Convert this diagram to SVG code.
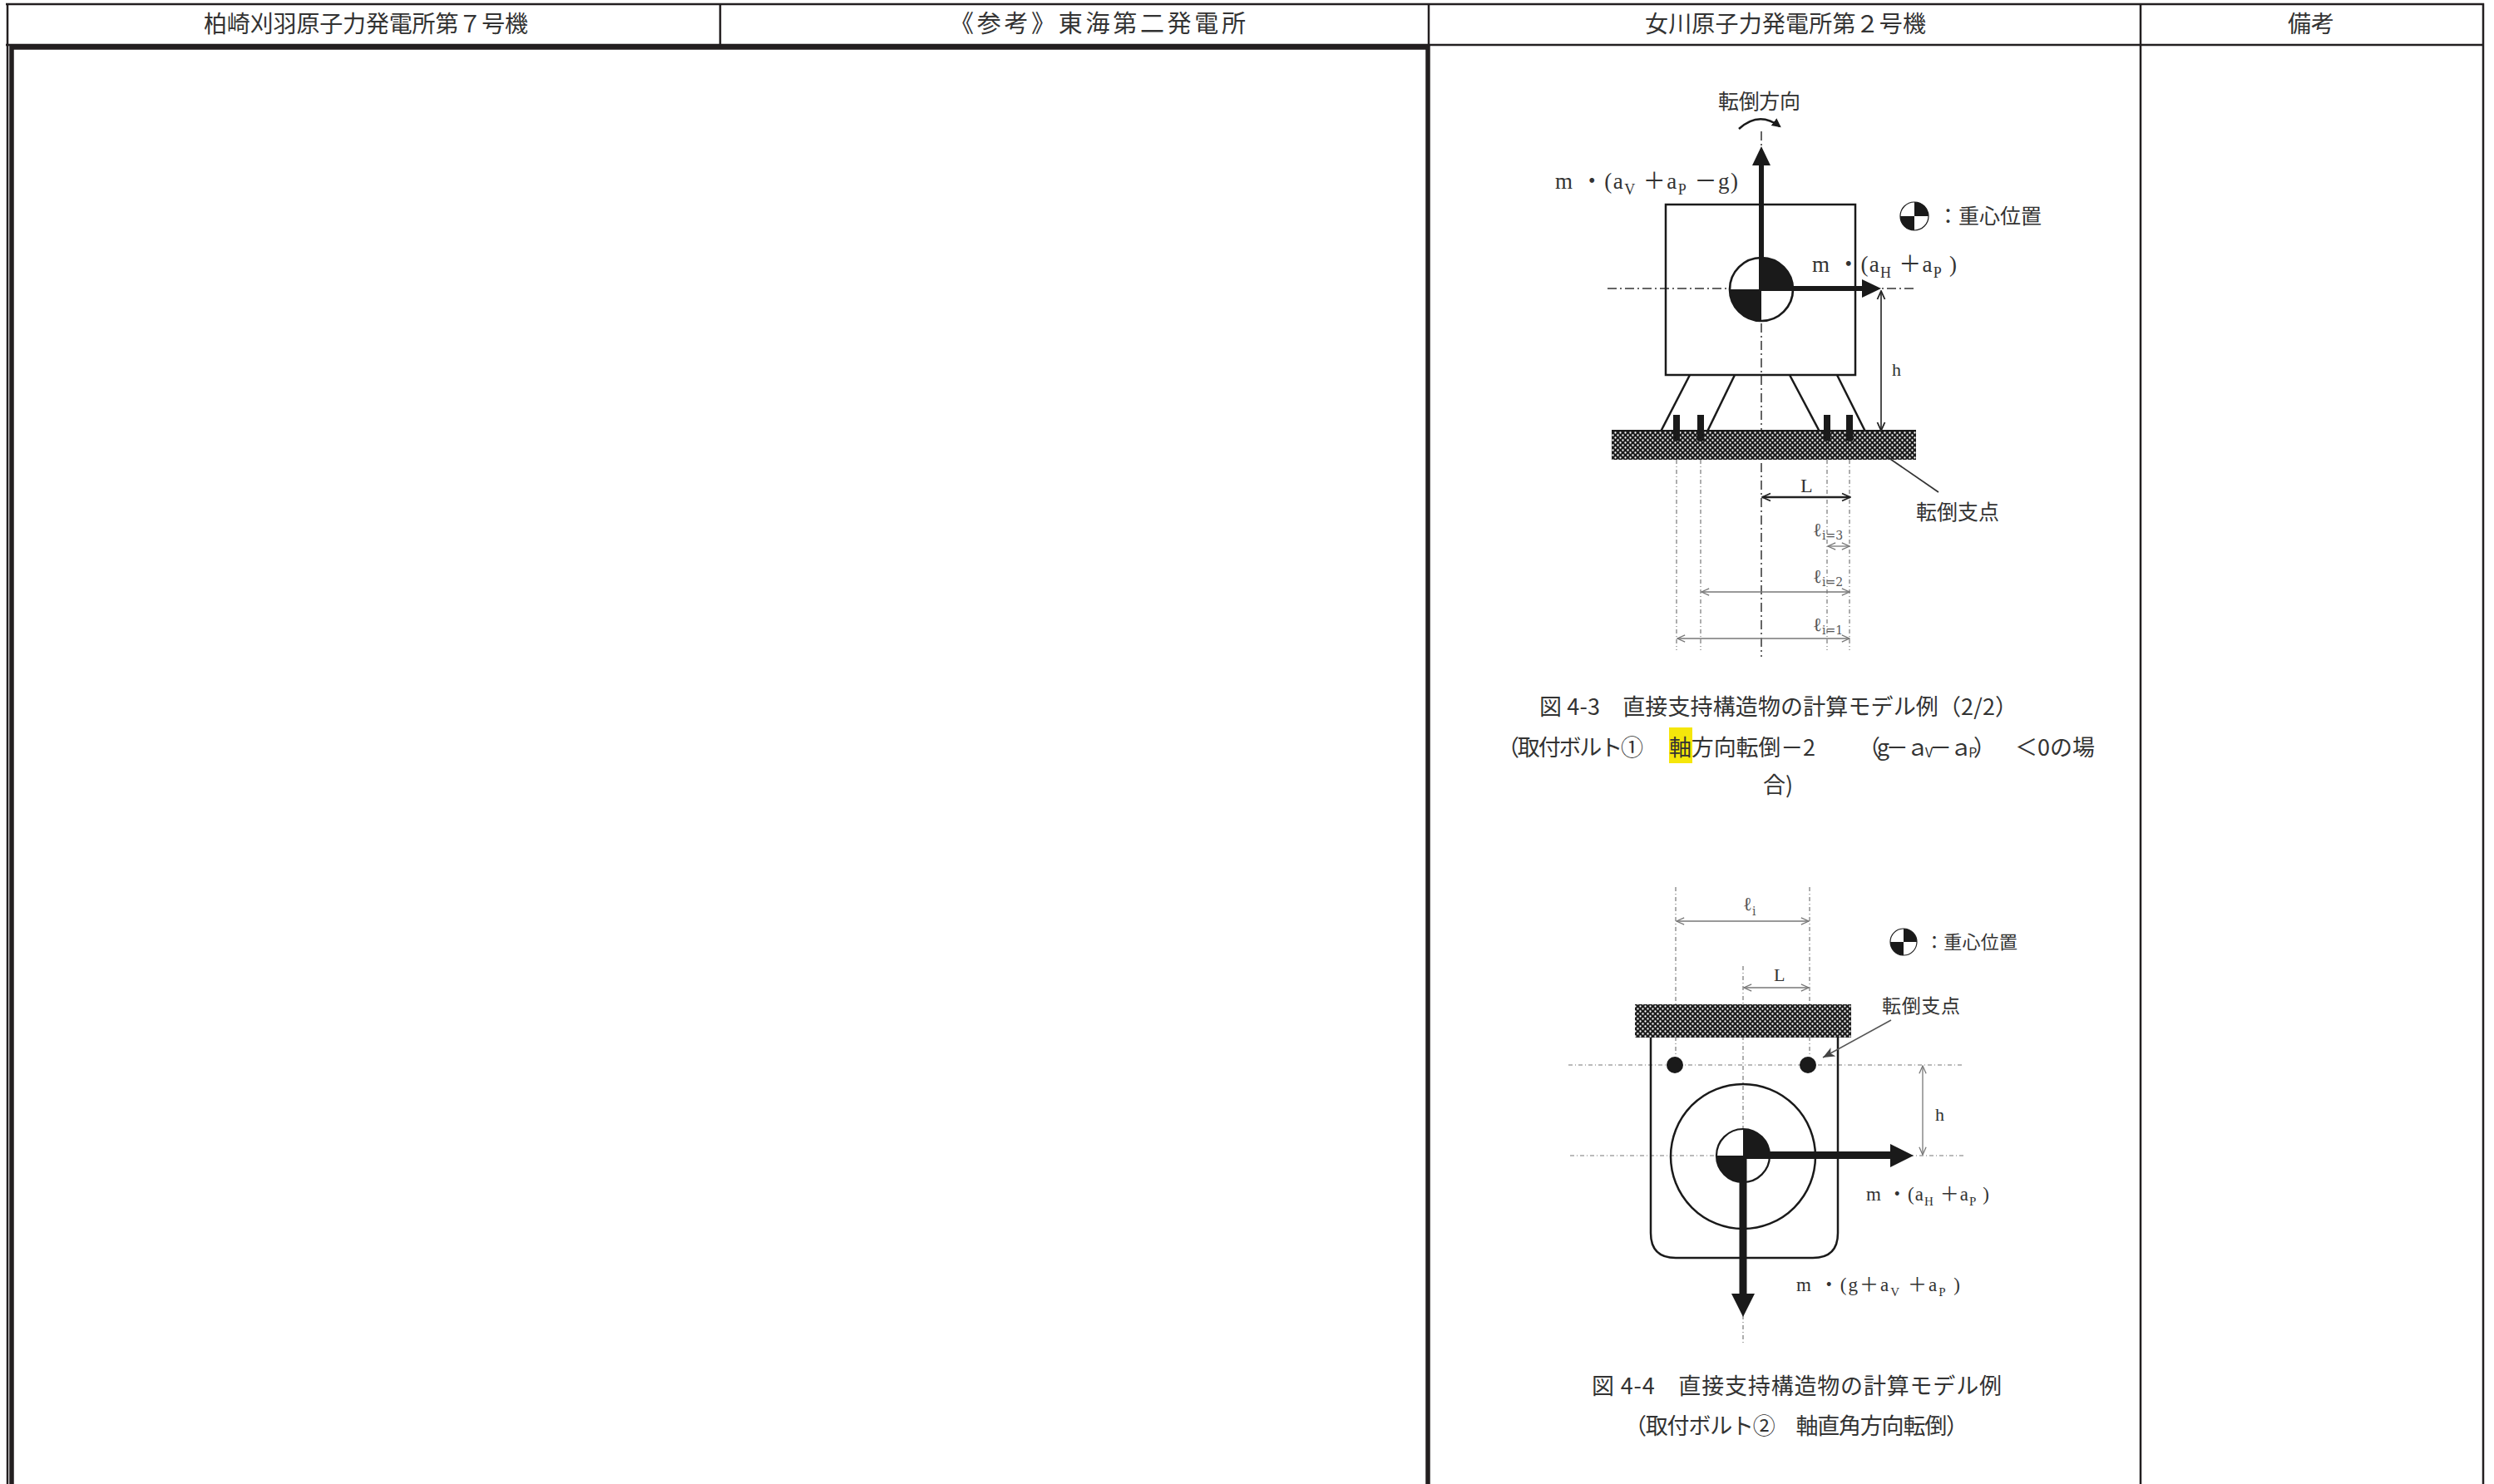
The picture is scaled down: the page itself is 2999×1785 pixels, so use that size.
<svg xmlns="http://www.w3.org/2000/svg" width="2999" height="1785" viewBox="0 0 2999 1785">
<style>
.bg{fill:#fff}
.tl{stroke:#231f20;stroke-width:2.5;fill:none}
.tk{stroke:#231f20;stroke-width:5.5;fill:none}
.jp{font-family:"Noto Sans CJK JP",sans-serif;fill:#333}
.fm{font-family:"Liberation Serif","Noto Sans CJK JP",serif;fill:#333}
.ln{stroke:#1a1a1a;stroke-width:2.5;fill:none}
.cl{stroke:#333;stroke-width:1.5;fill:none;stroke-dasharray:11 4 2 4}
.dl{stroke:#777;stroke-width:1.2;fill:none;stroke-dasharray:5 3 1 3}
.dim{stroke:#777;stroke-width:1.3;fill:none}
.dimd{stroke:#222;stroke-width:1.6;fill:none}
.blk{fill:#1a1a1a}
.ell{font-family:"DejaVu Serif",serif;fill:#555}
</style>
<defs>
<pattern id="hatch" width="6" height="6" patternUnits="userSpaceOnUse">
<rect width="6" height="6" fill="#1c1c1c"/>
<circle cx="1.5" cy="1.5" r="1.15" fill="#fff"/>
<circle cx="4.5" cy="4.5" r="1.15" fill="#fff"/>
</pattern>
<marker id="ad" viewBox="0 0 12 12" refX="11" refY="6" markerWidth="12" markerHeight="12" markerUnits="userSpaceOnUse" orient="auto-start-reverse"><path d="M1,1.5 L11,6 L1,10.5" fill="none" stroke="#222" stroke-width="1.8"/></marker>
<marker id="ag" viewBox="0 0 12 12" refX="11" refY="6" markerWidth="11" markerHeight="11" markerUnits="userSpaceOnUse" orient="auto-start-reverse"><path d="M1,1.5 L11,6 L1,10.5" fill="none" stroke="#777" stroke-width="1.4"/></marker>
<marker id="af" viewBox="0 0 12 10" refX="12" refY="5" markerWidth="14" markerHeight="12" markerUnits="userSpaceOnUse" orient="auto"><path d="M0,0 L12,5 L0,10 L3,5 z" fill="#444"/></marker>
<marker id="arc" viewBox="0 0 10 10" refX="8" refY="5" markerWidth="11" markerHeight="11" markerUnits="userSpaceOnUse" orient="auto"><path d="M0,0 L10,5 L0,10 z" fill="#1a1a1a"/></marker>
<g id="cg"><circle r="1" fill="#fff" stroke="#1a1a1a" stroke-width="0.07"/><path d="M0,0 L0,-1 A1,1 0 0 1 1,0 Z M0,0 L0,1 A1,1 0 0 1 -1,0 Z" fill="#1a1a1a"/></g>
</defs>
<rect class="bg" width="2999" height="1785"/>

<g id="table">
<line class="tl" x1="7" y1="5" x2="2987" y2="5"/>
<line class="tl" x1="9" y1="4" x2="9" y2="1785"/>
<line class="tl" x1="2986" y1="4" x2="2986" y2="1785"/>
<line class="tl" x1="7" y1="54" x2="2987" y2="54"/>
<line class="tl" x1="866" y1="5" x2="866" y2="54"/>
<line class="tl" x1="1718" y1="5" x2="1718" y2="54"/>
<line class="tl" x1="2574" y1="5" x2="2574" y2="1785"/>
<path class="tk" d="M14,1786 L14,57 L1717,57 L1717,1786"/>
<text class="jp" x="440" y="39" font-size="28" text-anchor="middle" textLength="390">柏崎刈羽原子力発電所第７号機</text>
<text class="jp" x="1320" y="39" font-size="29" text-anchor="middle" textLength="356">《参考》東海第二発電所</text>
<text class="jp" x="2147" y="39" font-size="28" text-anchor="middle" textLength="338">女川原子力発電所第２号機</text>
<text class="jp" x="2779" y="39" font-size="28" text-anchor="middle">備考</text>
</g>

<g id="fig43">
<g id="fig43-centerlines">
<line class="cl" x1="2118" y1="158" x2="2118" y2="790"/>
<line class="cl" x1="1933" y1="347" x2="2304" y2="347"/>
<line class="dl" x1="2016" y1="553" x2="2016" y2="782"/>
<line class="dl" x1="2045" y1="553" x2="2045" y2="782"/>
<line class="dl" x1="2197" y1="553" x2="2197" y2="782"/>
<line class="dl" x1="2224" y1="553" x2="2224" y2="782"/>
</g>
<g id="fig43-body">
<rect class="ln" x="2003" y="246" width="228" height="205"/>
<line class="ln" x1="2032" y1="451" x2="1997" y2="519"/>
<line class="ln" x1="2086" y1="451" x2="2053" y2="519"/>
<line class="ln" x1="2152" y1="451" x2="2188" y2="519"/>
<line class="ln" x1="2209" y1="451" x2="2243" y2="519"/>
<rect x="1938" y="518" width="366" height="35" fill="url(#hatch)"/>
<line x1="1938" y1="518" x2="2304" y2="518" stroke="#1a1a1a" stroke-width="2"/>
<rect class="blk" x="2012" y="499" width="8" height="31"/>
<rect class="blk" x="2041" y="499" width="8" height="31"/>
<rect class="blk" x="2193" y="499" width="8" height="31"/>
<rect class="blk" x="2220" y="499" width="8" height="31"/>
<use href="#cg" transform="translate(2118,348) scale(38)"/>
</g>
<g id="fig43-forces">
<rect class="blk" x="2115" y="194" width="6" height="154"/>
<path class="blk" d="M2107,199 L2129,199 L2118,176 Z"/>
<rect class="blk" x="2118" y="344" width="124" height="6"/>
<path class="blk" d="M2239,336 L2239,358 L2262,347 Z"/>
<path d="M2091,155 Q2115,133 2140,152" fill="none" stroke="#1a1a1a" stroke-width="2.5" marker-end="url(#arc)"/>
</g>
<g id="fig43-dims">
<line class="dimd" x1="2262" y1="350" x2="2262" y2="518" marker-start="url(#ad)" marker-end="url(#ad)"/>
<line x1="2119" y1="598" x2="2225" y2="598" stroke="#222" stroke-width="2.4" marker-start="url(#ad)" marker-end="url(#ad)"/>
<line class="dim" x1="2198" y1="657" x2="2224" y2="657" marker-start="url(#ag)" marker-end="url(#ag)"/>
<line class="dim" x1="2046" y1="712" x2="2224" y2="712" marker-start="url(#ag)" marker-end="url(#ag)"/>
<line class="dim" x1="2017" y1="768" x2="2224" y2="768" marker-start="url(#ag)" marker-end="url(#ag)"/>
<line x1="2270" y1="550" x2="2331" y2="592" stroke="#333" stroke-width="1.8"/>
</g>
<g id="fig43-labels">
<text class="jp" x="2066" y="131" font-size="25" textLength="99">転倒方向</text>
<text class="fm" x="1870" y="227" font-size="27" textLength="220">m ・(a<tspan font-size="18" dy="7">V</tspan><tspan dy="-7"> ＋a</tspan><tspan font-size="18" dy="7">P</tspan><tspan dy="-7"> －g)</tspan></text>
<text class="fm" x="2179" y="327" font-size="27" textLength="174">m ・(a<tspan font-size="18" dy="7">H</tspan><tspan dy="-7"> ＋a</tspan><tspan font-size="18" dy="7">P</tspan><tspan dy="-7"> )</tspan></text>
<use href="#cg" transform="translate(2302,260) scale(17)"/>
<text class="jp" x="2330" y="269" font-size="25" textLength="125">：重心位置</text>
<text class="fm" x="2275" y="452" font-size="22">h</text>
<text class="fm" x="2165" y="592" font-size="24">L</text>
<text class="jp" x="2304" y="625" font-size="25" textLength="100">転倒支点</text>
<text class="ell" x="2180" y="645" font-size="23">ℓ<tspan font-size="14" dy="4">i=3</tspan></text>
<text class="ell" x="2180" y="701" font-size="23">ℓ<tspan font-size="14" dy="4">i=2</tspan></text>
<text class="ell" x="2180" y="759" font-size="23">ℓ<tspan font-size="14" dy="4">i=1</tspan></text>
</g>
<g id="fig43-caption">
<text class="jp" x="1851" y="860" font-size="27" textLength="575">図 4-3　直接支持構造物の計算モデル例（2/2）</text>
<rect x="2007" y="875" width="28" height="43" fill="#f5e60a"/>
<text class="jp" x="1800" y="909" font-size="27" textLength="176">（取付ボルト①</text>
<text class="jp" x="2007" y="909" font-size="27" textLength="176">軸方向転倒－2</text>
<text class="jp" x="2234" y="909" font-size="27" textLength="166">（g－ ａ<tspan font-size="16" dy="2">V</tspan><tspan dy="-2">－ ａ</tspan><tspan font-size="16" dy="2">P</tspan><tspan dy="-2">）</tspan></text>
<text class="jp" x="2423" y="909" font-size="27">＜0の場</text>
<text class="jp" x="2120" y="954" font-size="27">合)</text>
</g>
</g>

<g id="fig44">
<g id="fig44-centerlines">
<line class="dl" x1="2015" y1="1067" x2="2015" y2="1281"/>
<line class="dl" x1="2176" y1="1067" x2="2176" y2="1281"/>
<line class="dl" x1="2096" y1="1162" x2="2096" y2="1616"/>
<line class="dl" x1="1886" y1="1281" x2="2359" y2="1281"/>
<line class="dl" x1="1888" y1="1390" x2="2361" y2="1390"/>
</g>
<g id="fig44-body">
<rect x="1966" y="1208" width="260" height="40" fill="url(#hatch)"/>
<path class="ln" d="M1985,1248 L1985,1483 Q1985,1513 2015,1513 L2180,1513 Q2210,1513 2210,1483 L2210,1248"/>
<circle class="blk" cx="2014" cy="1281" r="10"/>
<circle class="blk" cx="2174" cy="1281" r="10"/>
<circle class="ln" cx="2096" cy="1391" r="87"/>
<use href="#cg" transform="translate(2096,1390) scale(32)"/>
</g>
<g id="fig44-forces">
<rect class="blk" x="2096" y="1385" width="180" height="9"/>
<path class="blk" d="M2273,1376 L2273,1404 L2301,1390 Z"/>
<rect class="blk" x="2091.5" y="1390" width="9" height="168"/>
<path class="blk" d="M2082,1556 L2110,1556 L2096,1584 Z"/>
</g>
<g id="fig44-dims">
<line class="dim" x1="2016" y1="1108" x2="2175" y2="1108" marker-start="url(#ag)" marker-end="url(#ag)"/>
<line class="dim" x1="2097" y1="1188" x2="2175" y2="1188" marker-start="url(#ag)" marker-end="url(#ag)"/>
<line class="dim" x1="2312" y1="1282" x2="2312" y2="1389" marker-start="url(#ag)" marker-end="url(#ag)"/>
<line x1="2274" y1="1227" x2="2192" y2="1272" stroke="#555" stroke-width="1.5" marker-end="url(#af)"/>
</g>
<g id="fig44-labels">
<text class="ell" x="2096" y="1095" font-size="23">ℓ<tspan font-size="14" dy="6">i</tspan></text>
<text class="fm" x="2133" y="1180" font-size="22">L</text>
<use href="#cg" transform="translate(2289,1133) scale(16)"/>
<text class="jp" x="2315" y="1141" font-size="22" textLength="111">：重心位置</text>
<text class="jp" x="2263" y="1218" font-size="23" textLength="94">転倒支点</text>
<text class="fm" x="2327" y="1348" font-size="22">h</text>
<text class="fm" x="2244" y="1444" font-size="23" textLength="148">m ・(a<tspan font-size="15" dy="6">H</tspan><tspan dy="-6"> ＋a</tspan><tspan font-size="15" dy="6">P</tspan><tspan dy="-6"> )</tspan></text>
<text class="fm" x="2160" y="1553" font-size="23" textLength="197">m ・(g＋a<tspan font-size="15" dy="6">V</tspan><tspan dy="-6"> ＋a</tspan><tspan font-size="15" dy="6">P</tspan><tspan dy="-6"> )</tspan></text>
</g>
<g id="fig44-caption">
<text class="jp" x="1914" y="1677" font-size="27" textLength="493">図 4-4　直接支持構造物の計算モデル例</text>
<text class="jp" x="1953" y="1725" font-size="27" textLength="414">（取付ボルト②　軸直角方向転倒）</text>
</g>
</g>
</svg>
